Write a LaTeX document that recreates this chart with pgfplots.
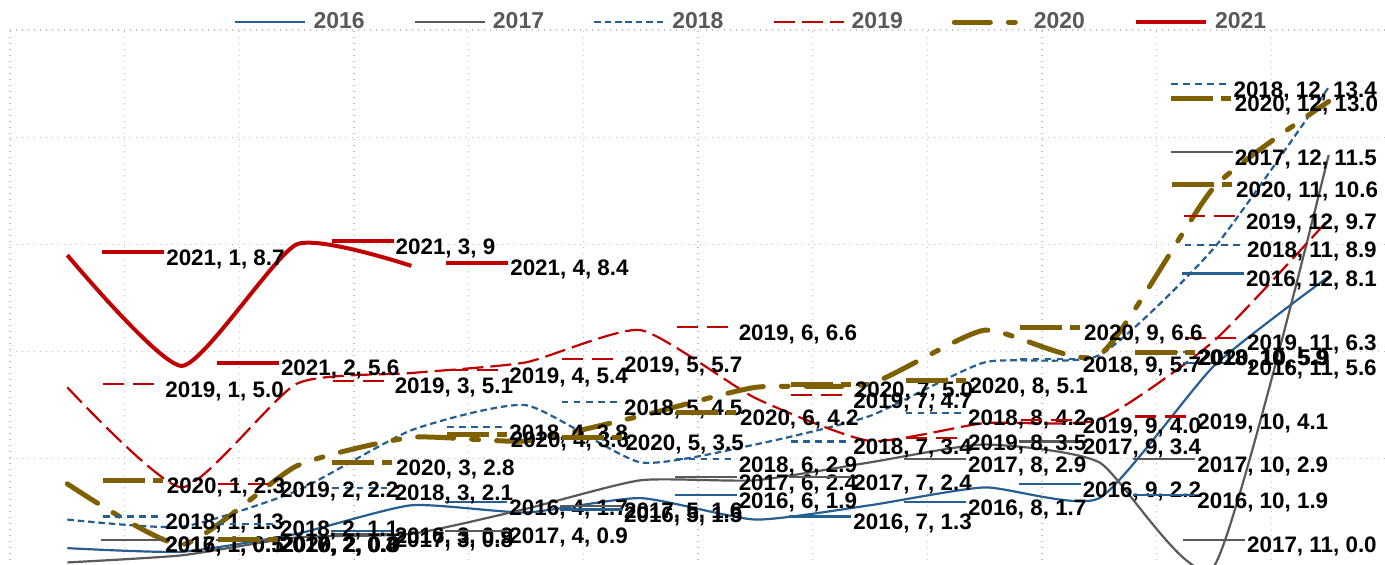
\documentclass[border=0pt]{standalone}
\usepackage{fontspec}
\setmainfont{Liberation Sans}
\usepackage{pgfplots}
\pgfplotsset{compat=1.18}
\usepackage{pgfplotstable}

\definecolor{cA}{HTML}{255E91}
\definecolor{cB}{HTML}{595959}
\definecolor{cR}{HTML}{C00000}
\definecolor{cO}{HTML}{7F6000}
\definecolor{lg}{HTML}{595959}
\definecolor{gridc}{HTML}{BFBFBF}

\pgfplotstableread{
m v dx
1 0.5 16.5
2 0.4 16.5
3 0.9 16.5
4 1.7 16.5
5 1.5 16.5
6 1.9 16.5
7 1.3 16.5
8 1.7 16.5
9 2.2 16.5
10 1.9 16.5
11 5.6 80.8
12 8.1 23.5
}\tA
\pgfplotstableread{
m v dx
1 0.1 16.5
2 0.3 16.5
3 0.8 16.5
4 0.9 16.5
5 1.6 16.5
6 2.4 16.5
7 2.4 16.5
8 2.9 16.5
9 3.4 16.5
10 2.9 16.5
11 0.0 80.8
12 11.5 23.5
}\tB
\pgfplotstableread{
m v dx
1 1.3 16.5
2 1.1 16.5
3 2.1 16.5
4 3.8 16.5
5 4.5 16.5
6 2.9 16.5
7 3.4 16.5
8 4.2 16.5
9 5.7 16.5
10 5.9 16.5
11 8.9 80.8
12 13.4 23.5
}\tC
\pgfplotstableread{
m v dx
1 5.0 16.5
2 2.2 16.5
3 5.1 16.5
4 5.4 16.5
5 5.7 16.5
6 6.6 16.5
7 4.7 16.5
8 3.5 16.5
9 4.0 16.5
10 4.1 16.5
11 6.3 80.8
12 9.7 23.5
}\tD
\pgfplotstableread{
m v dx
1 2.3 16.5
2 0.6 16.5
3 2.8 16.5
4 3.6 16.5
5 3.5 16.5
6 4.2 16.5
7 5.0 16.5
8 5.1 16.5
9 6.6 16.5
10 5.9 16.5
11 10.6 80.8
12 13.0 23.5
}\tE
\pgfplotstableread{
m v dx
1 8.7 16.5
2 5.6 16.5
3 9 16.5
4 8.4 16.5
}\tF

\newcommand\labfont{\fontsize{11.2}{13}\selectfont\bfseries}
\newcommand\kSolid[2]{\raisebox{\dimexpr6.5pt-#2/2\relax}{\textcolor{#1}{\rule{31pt}{#2}}}}
\newcommand\kDash[4]{\raisebox{\dimexpr6.5pt-#2/2\relax}{\color{#1}\hbox to 31pt{\xleaders\hbox{\rule{#3}{#2}\hspace{#4}}\hfill}}}
\newcommand\kOlive{\raisebox{5.25pt}{\color{cO}\rule{21pt}{2.5pt}\hspace{4pt}\rule{5pt}{2.5pt}\hspace{1pt}}}
\newcommand\labtext[3]{#1\hspace{1pt}#2, \pgfmathprintnumber[assume math mode=true,fixed,precision=0]{\mx}, \pgfmathprintnumber[assume math mode=true,#3]{\vv}}
\newcommand\labx[3]{%
  \ifdim\dxv pt>17pt
    \hspace*{\dxv pt}\llap{\labtext{#1}{#2}{#3}}%
  \else
    \hspace*{16.5pt}\rlap{\labtext{#1}{#2}{#3}}%
  \fi}

\pgfplotsset{
  lbl/.style n args={3}{
    visualization depends on={\thisrow{m}\as\mx},
    visualization depends on={\thisrow{v}\as\vv},
    visualization depends on={\thisrow{dx}\as\dxv},
    nodes near coords={\labx{#1}{#2}{#3}},
    every node near coord/.append style={anchor=base west,
      yshift={-5+max(0,0.646-\vv)*17.867}},
  },
}

\begin{document}
\begin{tikzpicture}
\begin{axis}[
  name=ax,
  set layers,
  mark layer=axis foreground,
  scale only axis,
  width=688pt, height=268pt,
  xmin=0.5, xmax=12.5,
  ymin=0, ymax=15,
  xtick={0.5,1.5,...,12.5},
  ytick={0,3,6,9,12,15},
  xticklabels={}, yticklabels={},
  major tick length=0pt,
  axis line style={draw=none},
  grid=major,
  grid style={gridc, line width=0.6pt, dash pattern=on 0.6pt off 2.4pt},
  every axis plot/.append style={smooth, tension=0.333, no markers},
  every node near coord/.append style={inner sep=0pt, font=\labfont, text=black},
  legend columns=6,
  legend style={at={(0.538,1.0144)}, anchor=center, draw=none, fill=none,
    font=\bfseries\fontsize{11.5}{13}\selectfont,
    nodes={inner sep=0pt, text=lg},
    /tikz/every odd column/.append style={column sep=3.5pt},
    /tikz/every even column/.append style={column sep=24.5pt}},
  legend image code/.code={\draw[#1] (0pt,0pt) -- (35pt,0pt);},
]
\addplot[cA, line width=1.1pt, lbl={\kSolid{cA}{1.1pt}}{2016}{fixed,fixed zerofill,precision=1}] table[x=m,y=v]{\tA};
\addlegendentry{2016}
\addplot[cB, line width=1.1pt, lbl={\kSolid{cB}{1.1pt}}{2017}{fixed,fixed zerofill,precision=1}] table[x=m,y=v]{\tB};
\addlegendentry{2017}
\addplot[cA, line width=1.1pt, dash pattern=on 3.3pt off 1.9pt, lbl={\kDash{cA}{1.1pt}{3.3pt}{1.9pt}}{2018}{fixed,fixed zerofill,precision=1}] table[x=m,y=v]{\tC};
\addlegendentry{2018}
\addplot[cR, line width=1.1pt, dash pattern=on 10.5pt off 3.5pt, lbl={\kDash{cR}{1.1pt}{10.5pt}{3.5pt}}{2019}{fixed,fixed zerofill,precision=1}] table[x=m,y=v]{\tD};
\addlegendentry{2019}
\addplot[cO, line width=2.5pt, line cap=round, dash pattern=on 18pt off 9pt on 3.5pt off 9pt, lbl={\kOlive}{2020}{fixed,fixed zerofill,precision=1}] table[x=m,y=v]{\tE};
\addlegendentry{2020}
\addplot[cR, line width=2pt, lbl={\kSolid{cR}{2pt}}{2021}{fixed,precision=1}] table[x=m,y=v]{\tF};
\addlegendentry{2021}
\end{axis}
\pgfresetboundingbox
\path ([xshift=-5pt,yshift=1pt]ax.south west) rectangle ([xshift=687.5pt,yshift=283pt]ax.south west);
\end{tikzpicture}
\end{document}
